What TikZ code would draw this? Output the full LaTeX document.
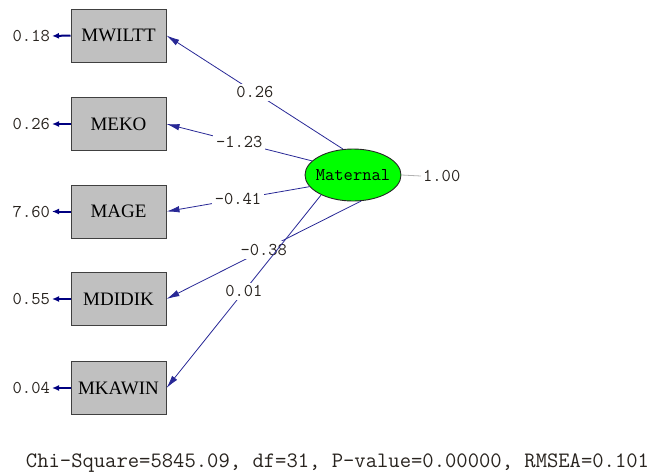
\documentclass[tikz,border=0pt]{standalone}
\usepackage{fontspec}
\setmainfont{Liberation Serif}
\usetikzlibrary{arrows.meta,shapes.geometric}
\definecolor{pathblue}{RGB}{40,40,150}
\definecolor{errblue}{RGB}{0,0,128}
\definecolor{boxgray}{RGB}{192,192,192}
\definecolor{edgegray}{RGB}{64,64,64}
\definecolor{labtext}{RGB}{40,35,30}
\tikzset{
  obsbox/.style={draw=edgegray, fill=boxgray, line width=1pt, minimum width=95pt, minimum height=53pt, inner sep=0pt, font=\fontsize{19}{19}\selectfont},
  latentvar/.style={ellipse, draw=black!85, fill=green, line width=0.9pt, minimum width=96pt, minimum height=52pt, inner sep=0pt, font=\ttfamily\fontsize{18}{18}\selectfont},
  numlabel/.style={font=\ttfamily\fontsize{18}{18}\selectfont, inner sep=2pt, text=labtext},
  pathlabel/.style={font=\ttfamily\fontsize{18}{18}\selectfont, fill=white, inner sep=3pt, text=labtext},
  loading/.style={draw=pathblue, line width=0.8pt, -{Latex[length=13pt,width=6.5pt]}},
  errarrow/.style={draw=errblue, line width=2pt, -{Latex[length=7pt,width=6pt]}},
}
\begin{document}
\begin{tikzpicture}[x=1pt,y=-1pt]
\useasboundingbox (0,0) rectangle (657,475);
\node[obsbox] (b1) at (118.5,35.5) {MWILTT};
\node[obsbox] (b2) at (118.5,124) {MEKO};
\node[obsbox] (b3) at (118.5,211.5) {MAGE};
\node[obsbox] (b4) at (118.5,299) {MDIDIK};
\node[obsbox] (b5) at (118.5,388) {MKAWIN};
\node[latentvar] (mat) at (353,175) {\makebox[0pt]{Maternal}};
% error variances
\node[numlabel, anchor=east] (v1) at (52,36) {0.18};
\node[numlabel, anchor=east] (v2) at (52,124) {0.26};
\node[numlabel, anchor=east] (v3) at (52,211.5) {7.60};
\node[numlabel, anchor=east] (v4) at (52,299) {0.55};
\node[numlabel, anchor=east] (v5) at (52,388) {0.04};
\draw[errarrow] (b1.west) -- (v1.east);
\draw[errarrow] (b2.west) -- (v2.east);
\draw[errarrow] (b3.west) -- (v3.east);
\draw[errarrow] (b4.west) -- (v4.east);
\draw[errarrow] (b5.west) -- (v5.east);
% latent variance
\node[numlabel, anchor=west] (lv) at (421,176) {1.00};
\draw[draw=black!30, line width=0.8pt] (mat.east) -- (lv.west);
% loadings
\draw[loading] (mat.111) -- node[pathlabel, pos=0.5] (l1) {0.26} (b1.east);
\draw[loading] (mat.161) -- node[pathlabel, pos=0.5] (l2) {-1.23} (b2.east);
\draw[loading] (mat.195) -- node[pathlabel, pos=0.5] (l3) {-0.41} (b3.east);
\draw[loading] (mat.287) -- node[pathlabel, pos=0.5] (l4) {-0.38} (b4.east);
\draw[loading] (mat.212) -- node[pathlabel, pos=0.5] (l5) {0.01} (b5.east);
% fit statistics
\node[font=\ttfamily\fontsize{22}{22}\selectfont, inner sep=0pt, text=labtext] (fit) at (337.5,463) {Chi-Square=5845.09, df=31, P-value=0.00000, RMSEA=0.101};
\end{tikzpicture}
\end{document}
